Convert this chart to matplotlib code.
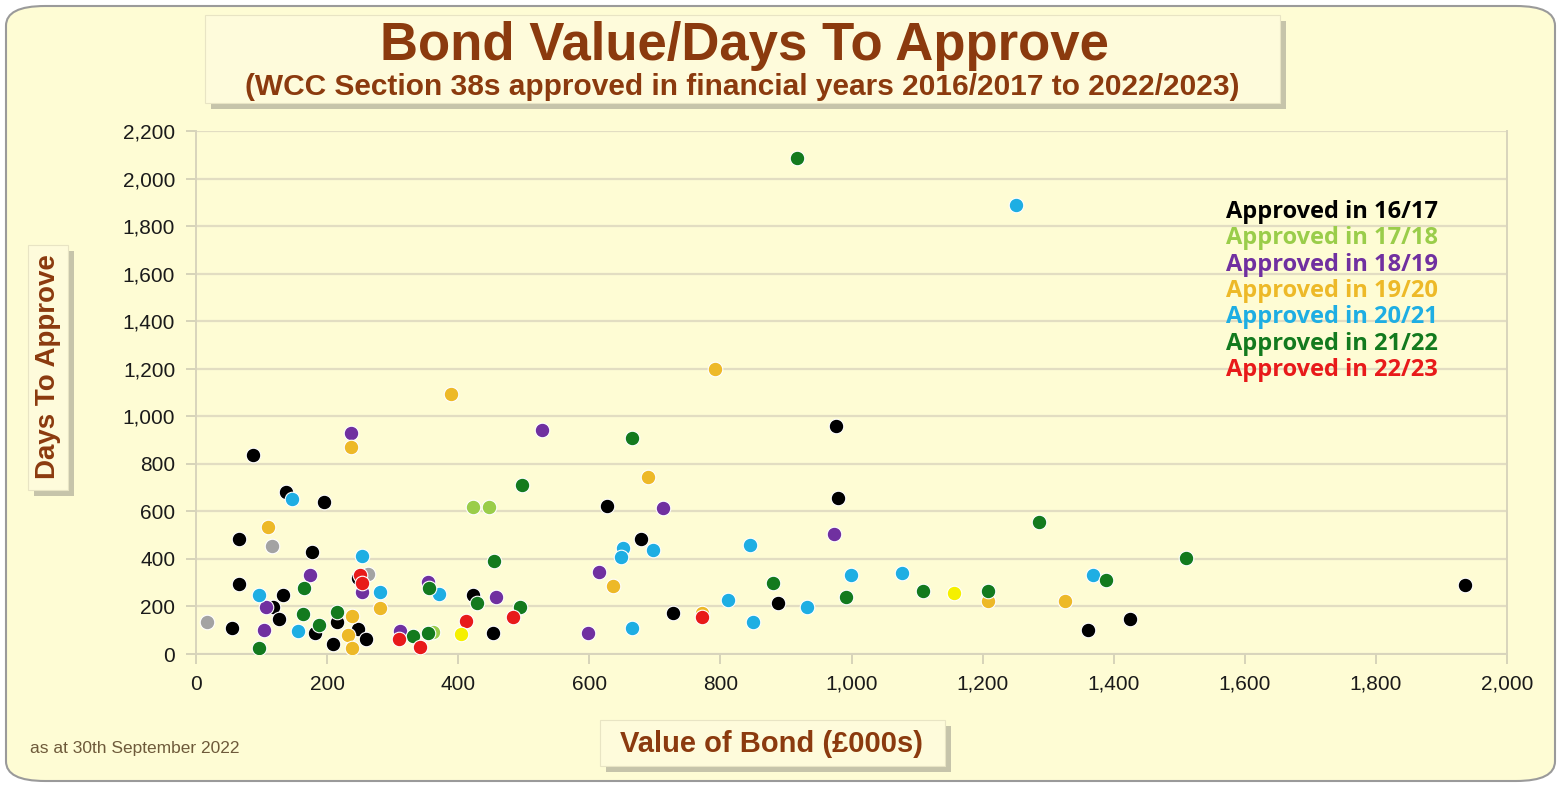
import matplotlib
matplotlib.use('Agg')
import matplotlib.pyplot as plt
from matplotlib.patches import FancyBboxPatch, Rectangle
from matplotlib.ticker import FuncFormatter, MultipleLocator
from matplotlib import font_manager

# data (value of bond in £000s, days to approve)
x_1617 = [87, 137, 195, 66, 177, 66, 133, 117, 127, 55, 215, 182, 247, 259, 209, 247,
          422, 453, 627, 679, 728, 888, 977, 980, 1361, 1425, 1936]
y_1617 = [837, 681, 640, 484, 429, 294, 248, 198, 147, 109, 135, 88, 105, 63, 42, 318,
          248, 88, 623, 484, 173, 214, 958, 656, 101, 147, 290]

x_1718 = [422, 447, 362]
y_1718 = [620, 620, 93]

x_1819 = [236, 528, 174, 253, 107, 104, 354, 458, 311, 598, 615, 712, 974]
y_1819 = [930, 942, 332, 261, 198, 101, 303, 240, 97, 88, 345, 614, 505]

x_1920 = [236, 110, 281, 238, 232, 238, 389, 792, 690, 636, 772, 1208, 1326]
y_1920 = [871, 534, 194, 160, 80, 25, 1094, 1199, 745, 286, 173, 223, 223]

x_2021 = [146, 253, 281, 96, 156, 371, 651, 648, 697, 845, 811, 932, 850, 665, 999,
          1077, 1369, 1251]
y_2021 = [652, 412, 261, 248, 97, 252, 446, 408, 437, 459, 227, 198, 135, 109, 332,
          340, 332, 1889]

x_2122 = [165, 163, 215, 188, 96, 497, 455, 356, 428, 494, 331, 354, 665, 880, 992,
          1109, 1208, 1286, 1388, 1510, 917]
y_2122 = [277, 168, 177, 122, 25, 711, 391, 278, 214, 198, 76, 88, 909, 299, 240,
          265, 265, 555, 311, 404, 2087]

x_2223 = [250, 253, 412, 484, 309, 342, 772]
y_2223 = [332, 299, 139, 156, 63, 30, 156]

# unlabelled dots (grey and bright yellow in the original)
x_grey = [17, 116, 262]
y_grey = [135, 454, 336]
x_yellow = [405, 1157]
y_yellow = [84, 256]

labels = ['Approved in 16/17', 'Approved in 17/18', 'Approved in 18/19', 'Approved in 19/20',
          'Approved in 20/21', 'Approved in 21/22', 'Approved in 22/23']
colors = ['#000000', '#9ACD4A', '#7030A0', '#EDB928', '#1EAEE3', '#137A1E', '#E81A1A']

W, H = 1561, 787


def pick(*names):
    have = set(f.name for f in font_manager.fontManager.ttflist)
    out = [n for n in names if n in have]
    return out + ['DejaVu Sans']


narrow = pick('Liberation Sans Narrow', 'Liberation Sans')
sans = pick('Liberation Sans')
legfont = pick('Open Sans', 'Lato')
brown = '#8B3A0E'
bg = '#FEFCD4'

fig = plt.figure(figsize=(W / 100, H / 100), dpi=100)
fig.patch.set_facecolor('white')

# rounded panel behind everything
panel = FancyBboxPatch((6 / W, 6 / H), 1 - 12 / W, 1 - 12 / H,
                       boxstyle='round,pad=0,rounding_size=0.025',
                       transform=fig.transFigure, facecolor=bg,
                       edgecolor='#9A9A9A', linewidth=1.5, zorder=-5)
fig.patches.append(panel)


def shadow_box(x0, y0, x1, y1):
    # px coords from top-left
    sh = Rectangle((x0 / W + 6 / W, 1 - y1 / H - 6 / H), (x1 - x0) / W, (y1 - y0) / H,
                   transform=fig.transFigure, facecolor='#B9B7A0', edgecolor='none',
                   alpha=0.8, zorder=-4)
    bx = Rectangle((x0 / W, 1 - y1 / H), (x1 - x0) / W, (y1 - y0) / H,
                   transform=fig.transFigure, facecolor='#FEFBDB', edgecolor='#E8E4C4',
                   linewidth=0.8, zorder=-3)
    fig.patches.append(sh)
    fig.patches.append(bx)


shadow_box(205, 15, 1280, 103)
shadow_box(28, 245, 68, 490)
shadow_box(600, 720, 945, 766)

ax = fig.add_axes([196 / W, 1 - 654 / H, (1507 - 196) / W, (654 - 131) / H])
ax.set_zorder(2)
ax.set_facecolor(bg)

ax.scatter(x_grey, y_grey, s=110, color='#A3A3A3', edgecolors='white', linewidths=0.8, zorder=3)
series = [(x_1617, y_1617), (x_1718, y_1718), (x_1819, y_1819), (x_1920, y_1920),
          (x_2021, y_2021), (x_2122, y_2122), (x_2223, y_2223)]
handles = []
for (xs, ys), lab, col in zip(series, labels, colors):
    h = ax.scatter(xs, ys, s=110, color=col, edgecolors='white', linewidths=0.8,
                   label=lab, zorder=3)
    handles.append(h)
ax.scatter(x_yellow, y_yellow, s=110, color='#F5F000', edgecolors='white', linewidths=0.8, zorder=3)

ax.set_xlim(0, 2000)
ax.set_ylim(0, 2200)
ax.xaxis.set_major_locator(MultipleLocator(200))
ax.yaxis.set_major_locator(MultipleLocator(200))
fmt = FuncFormatter(lambda v, p: f'{int(v):,}')
ax.xaxis.set_major_formatter(fmt)
ax.yaxis.set_major_formatter(fmt)
ax.grid(axis='y', color='#E2DDC2', linewidth=1.6)
ax.set_axisbelow(True)
ax.spines['top'].set_visible(False)
for s in ['left', 'right', 'bottom']:
    ax.spines[s].set_color('#D8D4BC')
    ax.spines[s].set_linewidth(1.4)
ax.tick_params(axis='both', colors='#D0CCB4', length=7, width=1.2, labelcolor='#1A1A1A',
               labelsize=15, pad=8)
for t in ax.get_xticklabels() + ax.get_yticklabels():
    t.set_family(sans)

leg = ax.legend(handles=handles, loc='upper left', bbox_to_anchor=(0.786, 0.868),
                frameon=False, handlelength=0, handletextpad=0, markerscale=0,
                borderpad=0, borderaxespad=0,
                labelspacing=0.1, prop={'family': legfont, 'weight': 'bold', 'size': 17})
for txt, col in zip(leg.get_texts(), colors):
    txt.set_color(col)

fig.text(744 / W, 1 - 46 / H, 'Bond Value/Days To Approve', ha='center', va='center',
         fontsize=38, fontweight='bold', color=brown, family=narrow, zorder=5)
fig.text(742 / W, 1 - 87 / H,
         '(WCC Section 38s approved in financial years 2016/2017 to 2022/2023)',
         ha='center', va='center', fontsize=21.5, fontweight='bold', color=brown,
         family=narrow, zorder=5)
fig.text(48 / W, 1 - 367 / H, 'Days To Approve', ha='center', va='center', rotation=90,
         fontsize=20, fontweight='bold', color=brown, family=narrow, zorder=5)
fig.text(772 / W, 1 - 744 / H, 'Value of Bond (\u00a3000s)', ha='center', va='center',
         fontsize=21, fontweight='bold', color=brown, family=narrow, zorder=5)
fig.text(30 / W, 1 - 748 / H, 'as at 30th September 2022', ha='left', va='center',
         fontsize=12.5, color='#6E5A3A', family=narrow, zorder=5)

fig.savefig('out.png', dpi=100, facecolor=fig.get_facecolor())
